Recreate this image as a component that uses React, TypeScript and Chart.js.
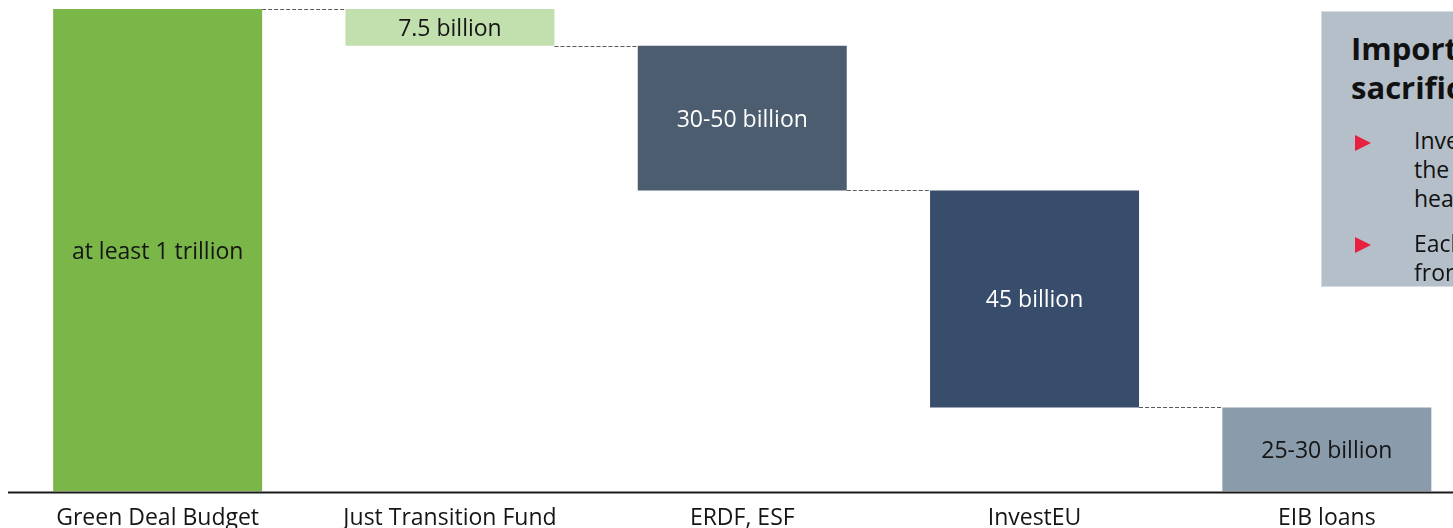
import React, { useEffect, useRef } from "react";
import { Chart, registerables } from "chart.js";

Chart.register(...registerables);

const categories = ["Green Deal Budget", "Just Transition Fund", "ERDF, ESF", "InvestEU", "EIB loans"];
const barStarts = [0, 92.4, 62.4, 17.4, 0];
const barEnds = [100, 100, 92.4, 62.4, 17.4];
const barLabels = ["at least 1 trillion", "7.5 billion", "30-50 billion", "45 billion", "25-30 billion"];
const barColors = ["#7ab648", "#c2dfae", "#4b5d6f", "#384c6b", "#8a9bac"];
const labelColors = ["#151515", "#151515", "#ffffff", "#ffffff", "#151515"];

const noteTitle = ["Important", "sacrifices"];
const noteBullets = [
  ["Investments must not come at", "the expense of education and", "healthcare"],
  ["Each member state must benefit", "from the transition"],
];

const FONT = "'Open Sans', sans-serif";

const waterfallPlugin = {
  id: "waterfallExtras",
  afterDatasetsDraw(chart: any) {
    const { ctx, chartArea } = chart;
    const meta = chart.getDatasetMeta(0);
    const yScale = chart.scales.y;
    ctx.save();
    // connectors
    ctx.strokeStyle = "#595959";
    ctx.lineWidth = 1;
    ctx.setLineDash([4, 2]);
    for (let i = 0; i < meta.data.length - 1; i++) {
      const a = meta.data[i];
      const b = meta.data[i + 1];
      const y = Math.round(yScale.getPixelForValue(barEnds[i + 1])) + 0.5;
      const x1 = a.x + a.width / 2;
      const x2 = b.x - b.width / 2;
      ctx.beginPath();
      ctx.moveTo(x1, y);
      ctx.lineTo(x2, y);
      ctx.stroke();
    }
    ctx.setLineDash([]);
    // labels
    ctx.font = `23px ${FONT}`;
    ctx.textAlign = "center";
    ctx.textBaseline = "middle";
    meta.data.forEach((bar: any, i: number) => {
      const yTop = yScale.getPixelForValue(barEnds[i]);
      const yBot = yScale.getPixelForValue(barStarts[i]);
      ctx.fillStyle = labelColors[i];
      ctx.fillText(barLabels[i], bar.x, (yTop + yBot) / 2 + 2);
    });
    // axis line
    ctx.strokeStyle = "#1a1a1a";
    ctx.lineWidth = 2;
    ctx.beginPath();
    ctx.moveTo(0, chartArea.bottom + 1);
    ctx.lineTo(chart.width, chartArea.bottom + 1);
    ctx.stroke();
    ctx.restore();
  },
};

export default function App() {
  const canvasRef = useRef<HTMLCanvasElement | null>(null);

  useEffect(() => {
    document.documentElement.style.overflow = "hidden";
    document.body.style.margin = "0";
    const canvas = canvasRef.current;
    if (!canvas) return;
    const chart = new Chart(canvas, {
      type: "bar",
      data: {
        labels: categories,
        datasets: [
          {
            data: barStarts.map((s, i) => [s, barEnds[i]]) as any,
            backgroundColor: barColors,
            borderWidth: 0,
            barPercentage: 0.715,
            categoryPercentage: 1,
          },
        ],
      },
      options: {
        responsive: false,
        animation: false,
        layout: { padding: { left: 3.5, right: 0, top: 1, bottom: 0 } },
        plugins: { legend: { display: false }, tooltip: { enabled: false } },
        scales: {
          x: {
            grid: { display: false, drawTicks: false },
            border: { display: false },
            ticks: {
              color: "#151515",
              padding: 13,
              maxRotation: 0,
              autoSkip: false,
              font: { family: FONT, size: 23, lineHeight: 1.2 },
            },
          },
          y: { display: false, min: 0, max: 100 },
        },
      },
      plugins: [waterfallPlugin],
    });
    return () => chart.destroy();
  }, []);

  const lineStyle = (top: number, left: number, size: number, lh: number, bold = false): React.CSSProperties => ({
    position: "absolute",
    top,
    left,
    fontFamily: FONT,
    fontSize: size,
    lineHeight: `${lh}px`,
    fontWeight: bold ? 700 : 400,
    color: "#111",
    whiteSpace: "nowrap",
  });

  const bulletTops = [[117.5, 146.5, 175.5], [220.5, 249.5]];
  const triTops = [127, 229];

  return (
    <div style={{ position: "relative", width: 1453, height: 528, overflow: "hidden" }}>
      <div style={{ position: "absolute", left: 8, top: 8, width: 1445, height: 520 }}>
        <canvas ref={canvasRef} width={1465} height={537} style={{ position: "absolute", left: 0, top: 0, width: 1465, height: 537 }} />
        <div
          style={{
            position: "absolute",
            left: 1313,
            top: 3,
            width: 300,
            height: 276,
            background: "#b5bfca",
            border: "1px solid #d6dbe1",
            boxSizing: "border-box",
          }}
        />
        {noteTitle.map((t, i) => (
          <div key={"t" + i} style={lineStyle(20.5 + i * 39, 1343, 31, 39, true)}>{t}</div>
        ))}
        {noteBullets.map((lines, bi) => (
          <React.Fragment key={"b" + bi}>
            <div
              style={{
                position: "absolute",
                left: 1347,
                top: triTops[bi],
                width: 0,
                height: 0,
                borderTop: "8.5px solid transparent",
                borderBottom: "8.5px solid transparent",
                borderLeft: "16px solid #e8203f",
              }}
            />
            {lines.map((l, li) => (
              <div key={li} style={lineStyle(bulletTops[bi][li], 1406, 23, 29)}>{l}</div>
            ))}
          </React.Fragment>
        ))}
      </div>
    </div>
  );
}
